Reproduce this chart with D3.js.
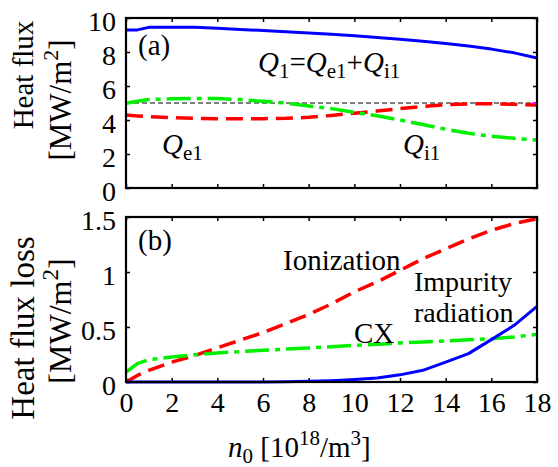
<!DOCTYPE html>
<html><head><meta charset="utf-8">
<script src="https://cdn.jsdelivr.net/npm/d3@7"></script>
<style>
body{margin:0;background:#fff;}
svg{display:block;font-family:"Liberation Serif","Times New Roman",serif;}
</style></head><body>
<svg id="c" width="558" height="467"></svg>
<script>
// ---- data ----
const nTop = [0,0.5,1,2,3,4,5,6,7,8,9,10,11,12,13,14,15,16,17,18];
const q1   = [9.3,9.3,9.45,9.46,9.45,9.4,9.33,9.26,9.19,9.12,9.04,8.95,8.86,8.75,8.63,8.5,8.35,8.17,7.95,7.65];
const qe1  = [4.29,4.24,4.2,4.14,4.1,4.08,4.08,4.08,4.1,4.16,4.27,4.4,4.53,4.67,4.8,4.9,4.95,4.95,4.92,4.88];
const qi1  = [4.98,5.1,5.2,5.25,5.27,5.26,5.2,5.1,5.0,4.83,4.67,4.45,4.25,4.0,3.73,3.46,3.22,3.04,2.92,2.82];
const refN = [0,18];
const refQ = [5,5];
const magN = [17.8,18];
const magQ = [5,5];

const nBot = [0,0.5,1,2,3,4,5,6,7,8,9,10,11,12,13,14,15,16,17,18];
const ionization = [0,0.06,0.106,0.18,0.24,0.31,0.38,0.45,0.53,0.615,0.71,0.82,0.91,1.015,1.12,1.21,1.3,1.38,1.44,1.485];
const cx         = [0.09,0.167,0.203,0.227,0.248,0.264,0.276,0.288,0.299,0.31,0.321,0.333,0.344,0.355,0.364,0.373,0.383,0.394,0.41,0.433];
const impurity   = [0,0,0,0,0,0,0,0,0.002,0.006,0.012,0.022,0.036,0.065,0.106,0.18,0.258,0.385,0.515,0.688];

const xTicks = [0,2,4,6,8,10,12,14,16,18];
const yTopTicks = [0,2,4,6,8,10];
const yBotTicks = [0,0.5,1,1.5];

// ---- layout ----
const svg = d3.select("#c");
const X0=126, X1=537;
const x = d3.scaleLinear().domain([0,18]).range([X0,X1]);
const yT = d3.scaleLinear().domain([0,10]).range([188,18]);
const yB = d3.scaleLinear().domain([0,1.5]).range([382,217]);
const TICKF = 28, ANNF = 29;
const FONT = "Liberation Serif, Times New Roman, serif";

function frame(y){
  const g = svg.append("g");
  const [b,t] = y.range();
  const l = g.append("g").attr("transform",`translate(${X0},0)`)
    .call(d3.axisLeft(y).tickValues(y===yT?yTopTicks:yBotTicks).tickFormat(d=>String(d))
      .tickSizeInner(-4).tickSizeOuter(0).tickPadding(10));
  l.selectAll("text").attr("font-size",TICKF).attr("dy","0.45em").attr("fill","#000")
    .attr("font-family",FONT);
  g.append("g").attr("transform",`translate(${X1},0)`)
    .call(d3.axisRight(y).tickValues(y===yT?yTopTicks:yBotTicks).tickFormat("")
      .tickSizeInner(-4).tickSizeOuter(0));
  g.append("g").attr("transform",`translate(0,${t})`)
    .call(d3.axisTop(x).tickValues(xTicks).tickFormat("").tickSizeInner(-4).tickSizeOuter(0));
  const bt = g.append("g").attr("transform",`translate(0,${b})`)
    .call(d3.axisBottom(x).tickValues(xTicks).tickFormat(y===yB?(d=>String(d)):"")
      .tickSizeInner(-4).tickSizeOuter(0).tickPadding(10));
  bt.selectAll("text").attr("font-size",TICKF).attr("fill","#000").attr("font-family",FONT);
  g.selectAll(".domain").remove();
  g.selectAll(".tick line").attr("stroke","#000").attr("stroke-width",1.5);
  return g;
}

function plotLine(y, xs, ys, color, width, dash){
  const line = d3.line().x((d,i)=>x(xs[i])).y(d=>y(d));
  svg.append("path").datum(ys).attr("d",line).attr("fill","none")
    .attr("stroke",color).attr("stroke-width",width)
    .attr("stroke-dasharray",dash||null).attr("stroke-linejoin","round");
}

// top panel
frame(yT);
plotLine(yT, refN, refQ, "#000", 1, "5,3");
plotLine(yT, nTop, q1, "#0000ff", 3);
plotLine(yT, nTop, qe1, "#ff0000", 3.5, "17,8");
plotLine(yT, nTop, qi1, "#00f000", 3.5, "24,6,5,6");
plotLine(yT, magN, magQ, "#ff00ff", 2);

// bottom panel
frame(yB);
plotLine(yB, nBot, ionization, "#ff0000", 3.5, "17,8");
plotLine(yB, nBot, cx, "#00f000", 3.5, "24,6,5,6");
plotLine(yB, nBot, impurity, "#0000ff", 3);

// frames
[yT,yB].forEach(y=>{
  const [b,t]=y.range();
  svg.append("rect").attr("x",X0).attr("y",t).attr("width",X1-X0).attr("height",b-t)
    .attr("fill","none").attr("stroke","#000").attr("stroke-width",2.2);
});

// annotations
function txt(x0,y0,size){ return svg.append("text").attr("x",x0).attr("y",y0).attr("font-size",size).attr("fill","#000"); }
txt(138,55,ANNF).text("(a)");
txt(138,250,ANNF).text("(b)");

function qlabel(x0,y0,parts){
  const t = txt(x0,y0,ANNF);
  parts.forEach(p=>{
    const s = t.append("tspan").text(p.t);
    if(p.i) s.attr("font-style","italic");
    if(p.sub) s.attr("font-size",21).attr("dy",p.dy);
    else if(p.dy) s.attr("dy",p.dy);
  });
  return t;
}
qlabel(258,72,[{t:"Q",i:1},{t:"1",sub:1,dy:6},{t:"=",dy:-6},{t:"Q",i:1},{t:"e1",sub:1,dy:6},{t:"+",dy:-6},{t:"Q",i:1},{t:"i1",sub:1,dy:6}]);
qlabel(162,154,[{t:"Q",i:1},{t:"e1",sub:1,dy:6}]);
qlabel(403,154,[{t:"Q",i:1},{t:"i1",sub:1,dy:6}]);

txt(283,270,ANNF).text("Ionization");
txt(414,291,28).text("Impurity");
txt(414,322,28).text("radiation");
txt(354,343,ANNF).text("CX");

// x title
const xt = txt(228,457,ANNF);
xt.append("tspan").attr("font-style","italic").text("n");
xt.append("tspan").attr("font-size",21).attr("dy",6).text("0");
xt.append("tspan").attr("dy",-6).text(" [10");
xt.append("tspan").attr("font-size",21).attr("dy",-12).text("18");
xt.append("tspan").attr("dy",12).text("/m");
xt.append("tspan").attr("font-size",21).attr("dy",-12).text("3");
xt.append("tspan").attr("dy",12).text("]");

// y titles
function ytitle(lines){
  lines.forEach(L=>{
    const t = svg.append("text").attr("transform",`translate(${L.x},${L.c}) rotate(-90)`)
      .attr("text-anchor","middle").attr("font-size",L.f).attr("fill","#000");
    L.parts.forEach(p=>{
      const s=t.append("tspan").text(p.t);
      if(p.sup) s.attr("font-size",Math.round(L.f*0.72)).attr("dy",-Math.round(L.f*0.42));
      else if(p.dy) s.attr("dy",Math.round(L.f*0.42));
    });
  });
}
ytitle([
  {x:33,c:75,f:29,parts:[{t:"Heat flux"}]},
  {x:71,c:100,f:31,parts:[{t:"[MW/m"},{t:"2",sup:1},{t:"]",dy:1}]}
]);
ytitle([
  {x:34,c:328,f:33,parts:[{t:"Heat flux loss"}]},
  {x:71,c:321,f:32,parts:[{t:"[MW/m"},{t:"2",sup:1},{t:"]",dy:1}]}
]);
</script>
</body></html>
